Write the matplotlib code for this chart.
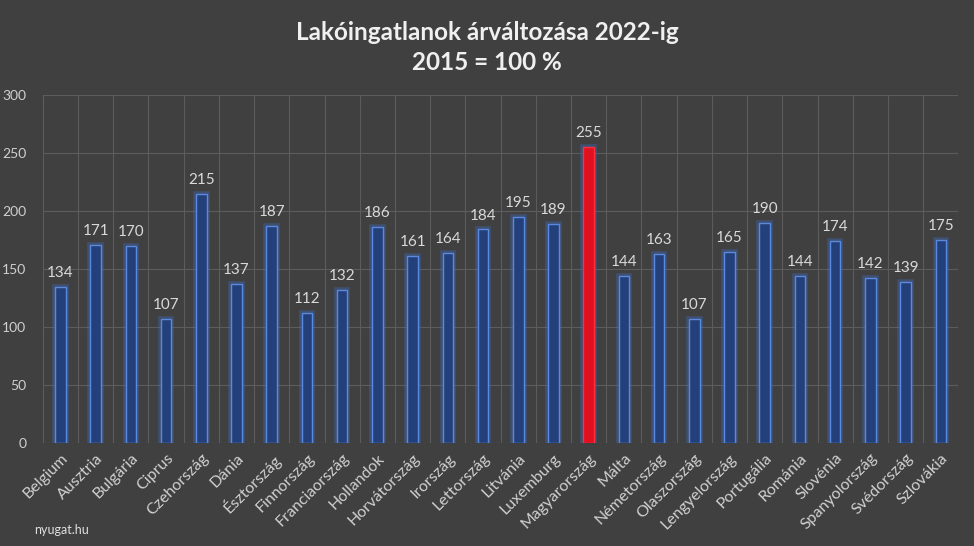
import matplotlib
matplotlib.use("Agg")
import matplotlib.pyplot as plt
import matplotlib.patheffects as pe

countries = ["Belgium", "Ausztria", "Bulgária", "Ciprus", "Czehország", "Dánia",
             "Észtország", "Finnország", "Franciaország", "Hollandok", "Horvátország",
             "Irország", "Lettország", "Litvánia", "Luxemburg", "Magyarország", "Málta",
             "Németország", "Olaszország", "Lengyelország", "Portugália", "Románia",
             "Slovénia", "Spanyolország", "Svédország", "Szlovákia"]
values = [134, 171, 170, 107, 215, 137, 187, 112, 132, 186, 161, 164, 184, 195,
          189, 255, 144, 163, 107, 165, 190, 144, 174, 142, 139, 175]
highlight = "Magyarország"

plt.rcParams['font.family'] = ['Lato', 'DejaVu Sans']
bg = '#404040'

fig = plt.figure(figsize=(9.74, 5.46), dpi=100, facecolor=bg)
ax = fig.add_axes([0.044, 0.189, 0.94, 0.637])
ax.set_facecolor(bg)

x = list(range(len(countries)))
face = ['#e0101e' if c == highlight else '#24407a' for c in countries]
edge = ['#ff3040' if c == highlight else '#5a8ae0' for c in countries]
bars = ax.bar(x, values, width=0.3, color=face, edgecolor=edge, linewidth=1.0, zorder=3)
for b in bars:
    b.set_path_effects([pe.withStroke(linewidth=4, foreground='#3f6fd0', alpha=0.35)])

for xi, v in zip(x, values):
    ax.text(xi, v + 6, str(v), ha='center', va='bottom', color='#d9d9d9', fontsize=11)

ax.set_xlim(-0.5, len(countries) - 0.5)
ax.set_ylim(0, 300)
ax.set_yticks(range(0, 301, 50))
ax.set_xticks(x)
ax.set_xticklabels(countries, rotation=45, ha='right', rotation_mode='anchor',
                   color='#d0d0d0', fontsize=11.5)
ax.set_xticks([i - 0.5 for i in range(len(countries) + 1)], minor=True)
ax.tick_params(axis='x', which='both', length=0, pad=6)
ax.tick_params(axis='y', length=0, colors='#d0d0d0', labelsize=10, pad=12)
ax.grid(axis='y', color='#5c5c5c', linewidth=0.8, zorder=0)
ax.grid(axis='x', which='minor', color='#5c5c5c', linewidth=0.8, zorder=0)
for s in ax.spines.values():
    s.set_visible(False)

fig.text(0.5, 0.941, "Lakóingatlanok árváltozása 2022-ig", ha='center', va='center',
         color='#f0f0f0', fontsize=17.5, fontweight='bold')
fig.text(0.5, 0.886, "2015 = 100 %", ha='center', va='center',
         color='#f0f0f0', fontsize=17.5, fontweight='bold')
fig.text(0.035, 0.03, "nyugat.hu", ha='left', va='center', color='#e0e0e0', fontsize=9)

fig.savefig("out.png", dpi=100, facecolor=bg)
